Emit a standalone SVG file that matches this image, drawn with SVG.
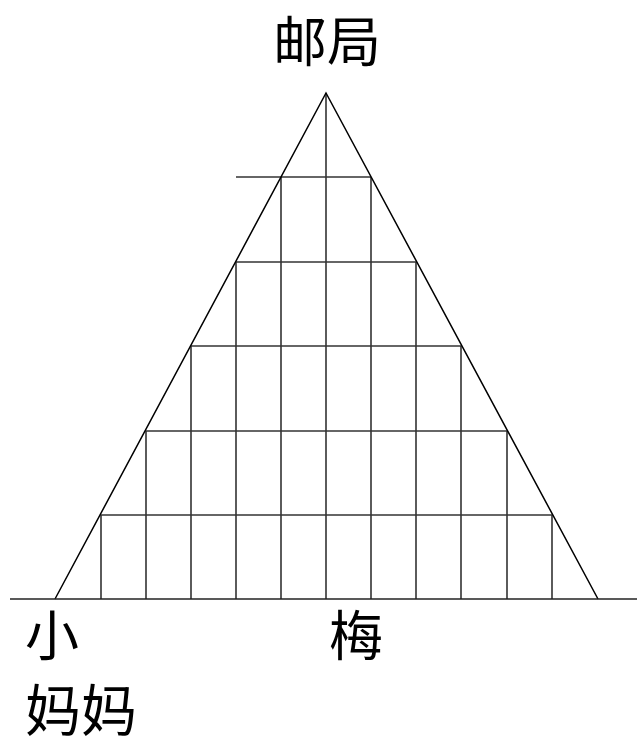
<svg xmlns="http://www.w3.org/2000/svg" width="637" height="740" viewBox="0 0 637 740">
<style>
.lbl{font-family:"Noto Sans CJK SC","Noto Sans",sans-serif;font-size:54px;fill:#000}
.grid line{stroke:#333;stroke-width:1.6}
.tri{fill:none;stroke:#000;stroke-width:1.5}
.base{stroke:#222;stroke-width:1.5}
</style>
<rect width="637" height="740" fill="#fff"/>
<g id="connectors">
<g class="grid">
<line x1="236" y1="177" x2="371" y2="177"/>
<line x1="236" y1="262" x2="416" y2="262"/>
<line x1="191" y1="346" x2="461" y2="346"/>
<line x1="146" y1="431" x2="507" y2="431"/>
<line x1="101" y1="515" x2="552" y2="515"/>
<line x1="101" y1="515" x2="101" y2="599"/>
<line x1="146" y1="431" x2="146" y2="599"/>
<line x1="191" y1="346" x2="191" y2="599"/>
<line x1="236" y1="262" x2="236" y2="599"/>
<line x1="281" y1="177" x2="281" y2="599"/>
<line x1="326" y1="93" x2="326" y2="599"/>
<line x1="371" y1="177" x2="371" y2="599"/>
<line x1="416" y1="262" x2="416" y2="599"/>
<line x1="461" y1="346" x2="461" y2="599"/>
<line x1="507" y1="431" x2="507" y2="599"/>
<line x1="552" y1="515" x2="552" y2="599"/>
</g>
<polyline class="tri" points="55,599 326,93 598,599"/>
<line class="base" x1="10" y1="599" x2="637" y2="599"/>
</g>
<g id="post-office"><text class="lbl" x="327" y="62" text-anchor="middle">邮局</text></g>
<g id="xiao"><text class="lbl" x="25" y="656">小</text></g>
<g id="mama"><text class="lbl" x="25" y="731" style="font-size:56px">妈妈</text></g>
<g id="mei"><text class="lbl" x="329" y="656">梅</text></g>
</svg>
